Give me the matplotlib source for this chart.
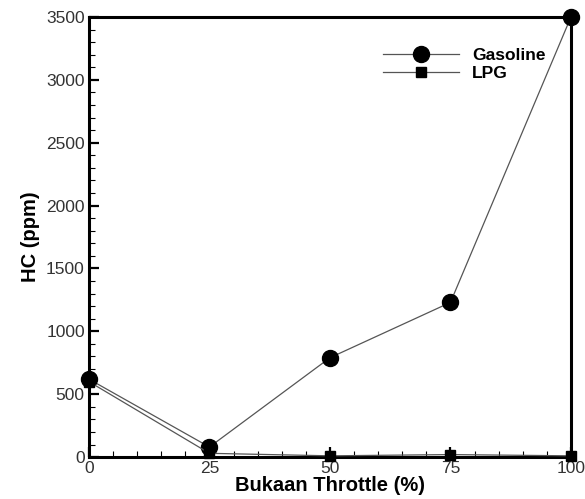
import matplotlib.pyplot as plt
from matplotlib.ticker import MultipleLocator

plt.rcParams['font.family'] = ['Liberation Sans', 'DejaVu Sans']

throttle = [0, 25, 50, 75, 100]
gasoline = [620, 80, 790, 1230, 3500]
lpg = [600, 30, 10, 20, 10]

fig = plt.figure(figsize=(5.85, 4.99), dpi=100)
ax = fig.add_axes([0.152, 0.084, 0.824, 0.882])

ax.plot(throttle, gasoline, color='#555555', lw=0.9, marker='o', ms=11.5,
        mfc='black', mec='black', label='Gasoline', clip_on=False, zorder=3)
ax.plot(throttle, lpg, color='#555555', lw=0.9, marker='s', ms=6.5,
        mfc='black', mec='black', label='LPG', clip_on=False, zorder=3)

ax.set_xlim(0, 100)
ax.set_ylim(0, 3500)
ax.xaxis.set_major_locator(MultipleLocator(25))
ax.xaxis.set_minor_locator(MultipleLocator(5))
ax.yaxis.set_major_locator(MultipleLocator(500))
ax.yaxis.set_minor_locator(MultipleLocator(100))
ax.tick_params(which='both', direction='in', top=False, right=False,
               labelsize=12.5, labelcolor='#333333', pad=3)
ax.tick_params(which='major', length=7, width=1.6)
ax.tick_params(which='minor', length=4, width=0.8)

for s in ax.spines.values():
    s.set_linewidth(2.2)

ax.set_xlabel('Bukaan Throttle (%)', fontsize=14.5, fontweight='bold', labelpad=0)
ax.set_ylabel('HC (ppm)', fontsize=14.5, fontweight='bold', labelpad=4)

ax.legend(loc='upper left', bbox_to_anchor=(0.61, 0.93), frameon=False,
          borderpad=0, borderaxespad=0, handlelength=4.4, labelspacing=0.15,
          handletextpad=0.75, prop={'weight': 'bold', 'size': 12.5})

fig.savefig('out.png', dpi=100)
